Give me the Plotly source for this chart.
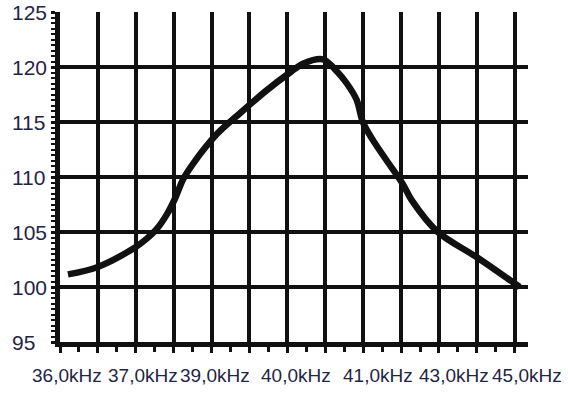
import plotly.graph_objects as go

# Curve (x in grid units, 0..12; y in dB)
curve_x = [0.21, 0.98, 1.98, 2.29, 2.56, 2.82, 3.03, 3.25, 3.51, 4.14, 4.75, 5.46, 6.07, 6.41,
           6.94, 7.31, 7.57, 7.83, 7.99, 8.25, 8.62, 9.04, 9.28, 9.97, 11.0, 12.13]
curve_y = [101.15, 101.8, 103.6, 104.4, 105.3, 106.6, 108.0, 109.8, 111.2, 113.9, 115.8, 117.9, 119.5, 120.3,
           120.7, 119.6, 118.5, 117.0, 115.0, 113.4, 111.5, 109.4, 107.9, 105.0, 102.7, 100.0]

# Axis labels
y_tick_vals = [125, 120, 115, 110, 105, 100, 95]
x_label_pos = [0.18, 2.19, 4.09, 6.22, 8.39, 10.39, 12.32]
x_label_text = ["36,0kHz", "37,0kHz", "39,0kHz", "40,0kHz", "41,0kHz", "43,0kHz", "45,0kHz"]

TXT = "#1f2545"
FONT = "Liberation Sans, Arial, sans-serif"

fig = go.Figure()
fig.add_trace(go.Scatter(x=curve_x, y=curve_y, mode="lines",
                         line=dict(color="#111111", width=6.5, shape="spline", smoothing=0.9),
                         hoverinfo="skip", showlegend=False))

annotations = []
for v in y_tick_vals:
    annotations.append(dict(x=-0.107, xref="paper", y=v, yref="y", text=str(v),
                            showarrow=False, xanchor="left", yanchor="middle",
                            font=dict(family=FONT, size=21, color=TXT)))
for p, t in zip(x_label_pos, x_label_text):
    annotations.append(dict(x=p, xref="x", y=-0.103, yref="paper", text=t,
                            showarrow=False, xanchor="center", yanchor="middle",
                            font=dict(family=FONT, size=19, color=TXT)))

fig.update_layout(
    width=568, height=394,
    margin=dict(l=60, r=40, t=12, b=52, pad=0),
    paper_bgcolor="white", plot_bgcolor="white",
    showlegend=False,
    annotations=annotations,
    xaxis=dict(range=[0, 12.35], dtick=1, tick0=0, showgrid=True, gridcolor="#111111", gridwidth=4,
               zeroline=False, showline=True, linecolor="#111111", linewidth=5,
               ticks="outside", ticklen=6, tickwidth=3, tickcolor="#111111",
               showticklabels=False,
               minor=dict(dtick=0.5, tick0=0, ticks="outside", ticklen=5, tickwidth=3,
                          tickcolor="#111111", showgrid=False)),
    yaxis=dict(range=[95, 125], dtick=5, tick0=95, showgrid=True, gridcolor="#111111", gridwidth=4,
               zeroline=False, showline=True, linecolor="#111111", linewidth=5,
               ticks="outside", ticklen=4, tickwidth=3, tickcolor="#111111",
               showticklabels=False,
               minor=dict(dtick=0.5, tick0=95, ticks="outside", ticklen=4, tickwidth=2,
                          tickcolor="#111111", showgrid=False)),
)

fig.write_html("out.html")
